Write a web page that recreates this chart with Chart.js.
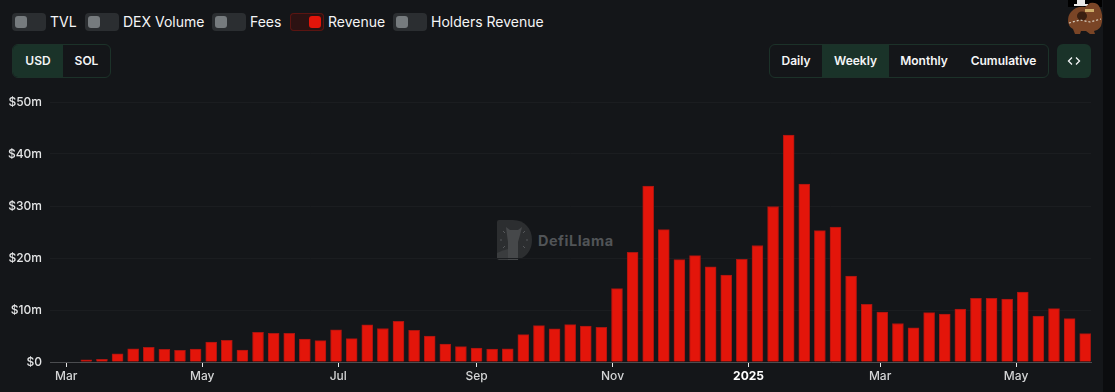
<!DOCTYPE html>
<html>
<head>
<meta charset="utf-8">
<title>Revenue</title>
<script src="https://cdn.jsdelivr.net/npm/chart.js@4/dist/chart.umd.js"></script>
<style>
    html, body { margin: 0; padding: 0; width: 1115px; height: 392px; overflow: hidden; background: #0b0c0e; font-family: Inter, sans-serif; }
    #panel { position: absolute; left: 0; top: 0; width: 1103px; height: 392px; background: #141619; }
    #chartWrap { position: absolute; left: 0; top: 90px; width: 1103px; height: 302px; }
    .abs { position: absolute; }
    .toggle { position: absolute; top: 13px; width: 34px; height: 18px; border-radius: 4px; background: #2b2e31; }
    .toggle i { position: absolute; left: 3px; top: 3px; width: 12px; height: 12px; border-radius: 3px; background: #767b7e; }
    .toggle.on { background: #2c1212; box-shadow: inset 0 0 0 1px #5a1512; }
    .toggle.on i { left: 19px; background: #e3150a; }
    .lbl { position: absolute; top: 13px; line-height: 18px; font-size: 14px; color: #f4f5f6; white-space: nowrap; }
    .group { position: absolute; top: 44px; height: 32px; border: 1px solid #1c3229; border-radius: 6px; overflow: hidden; }
    .btn { position: absolute; top: 0; height: 32px; line-height: 32px; text-align: center; font-size: 12px; font-weight: 600; color: #f4f5f6; }
    .btn.on { background: #1a3329; }
    #code { position: absolute; left: 1057px; top: 44px; width: 34px; height: 34px; border-radius: 6px; background: #1a3329; }
    #wmText { position: absolute; left: 538px; top: 231px; line-height: 20px; font-size: 14.5px; font-weight: 700; letter-spacing: 0.5px; color: #515457; }
</style>
</head>
<body>
<div id="panel">
    <div class="toggle" style="left:12px"><i></i></div><div class="lbl" style="left:50px">TVL</div>
    <div class="toggle" style="left:85px"><i></i></div><div class="lbl" style="left:123px">DEX Volume</div>
    <div class="toggle" style="left:212px"><i></i></div><div class="lbl" style="left:250px">Fees</div>
    <div class="toggle on" style="left:290px"><i></i></div><div class="lbl" style="left:328px">Revenue</div>
    <div class="toggle" style="left:393px"><i></i></div><div class="lbl" style="left:431px">Holders Revenue</div>

    <div class="group" style="left:12px;width:97px">
        <div class="btn on" style="left:0;width:50px">USD</div>
        <div class="btn" style="left:50px;width:47px">SOL</div>
    </div>
    <div class="group" style="left:769px;width:278px">
        <div class="btn" style="left:0;width:52px">Daily</div>
        <div class="btn on" style="left:52px;width:67px">Weekly</div>
        <div class="btn" style="left:119px;width:70px">Monthly</div>
        <div class="btn" style="left:189px;width:89px">Cumulative</div>
    </div>
    <div id="code">
        <svg width="34" height="34" viewBox="0 0 34 34" fill="none" stroke="#f4f5f6" stroke-width="1.3">
            <path d="M15 13.5 L11.5 17 L15 20.5"/>
            <path d="M19 13.5 L22.5 17 L19 20.5"/>
        </svg>
    </div>

    <!-- значок у правому верхньому куті -->
    <svg class="abs" style="left:1068px;top:0" width="35" height="36" viewBox="0 0 35 36">
        <rect x="0" y="0" width="34" height="7" fill="#000"/>
        <path d="M9 0h8v4h3v2H6V4h3z" fill="#e8e8e8"/>
        <path d="M3 12 Q8 6 17 7 L22 3 Q30 2 32 8 Q35 14 34 22 Q33 30 26 31 L27 34 H22 L18 31 L13 31 L12 34 H7 L5 29 Q0 26 0 21 Q0 15 3 12 Z" fill="#7a4526"/>
        <ellipse cx="14" cy="16" rx="5" ry="4.5" fill="#3a1f10"/>
        <rect x="17" y="9" width="9" height="3" fill="#cfae6a"/>
        <path d="M1 23 L12 20 L22 22 L33 19" stroke="#d8cdbd" stroke-width="1.2" stroke-dasharray="2 2" fill="none"/>
    </svg>

    <!-- водяний знак -->
    <svg class="abs" style="left:497px;top:220px" width="36" height="40" viewBox="0 0 36 40">
        <path d="M0 2 Q0 0 2 0 H16 C28 0 35 9 35 20 C35 31 28 40 16 40 H2 Q0 40 0 38 Z" fill="#2c2e30"/>
        <path d="M9 7 L13 10 H21 L25 7 L23 15 L21 22 V40 H11 V22 L10 15 Z" fill="#46484a"/>
        <path d="M0 38 V33 Q6 30 11 29 V40 H2 Z" fill="#3a3c3e"/>
        <path d="M6 11 L8 13 M28 11 L26 13 M3 20 H5 M29 20 H31 M6 28 L8 26 M28 28 L26 26" stroke="#55575a" stroke-width="1"/>
    </svg>
    <div id="wmText">DefiLlama</div>

    <div id="chartWrap"><canvas id="revenueChart"></canvas></div>
</div>

<script>
// Тижневі дати стовпчиків
const weekDates = [
    "2024-03-10", "2024-03-17", "2024-03-24", "2024-03-31", "2024-04-07", "2024-04-14", "2024-04-21", "2024-04-28",
    "2024-05-05", "2024-05-12", "2024-05-19", "2024-05-26", "2024-06-02", "2024-06-09", "2024-06-16", "2024-06-23",
    "2024-06-30", "2024-07-07", "2024-07-14", "2024-07-21", "2024-07-28", "2024-08-04", "2024-08-11", "2024-08-18",
    "2024-08-25", "2024-09-01", "2024-09-08", "2024-09-15", "2024-09-22", "2024-09-29", "2024-10-06", "2024-10-13",
    "2024-10-20", "2024-10-27", "2024-11-03", "2024-11-10", "2024-11-17", "2024-11-24", "2024-12-01", "2024-12-08",
    "2024-12-15", "2024-12-22", "2024-12-29", "2025-01-05", "2025-01-12", "2025-01-19", "2025-01-26", "2025-02-02",
    "2025-02-09", "2025-02-16", "2025-02-23", "2025-03-02", "2025-03-09", "2025-03-16", "2025-03-23", "2025-03-30",
    "2025-04-06", "2025-04-13", "2025-04-20", "2025-04-27", "2025-05-04", "2025-05-11", "2025-05-18", "2025-05-25",
    "2025-06-01"
];

// Дохід, млн USD
const revenue = [
    0.4, 0.5, 1.55, 2.55, 2.8, 2.45, 2.25, 2.5,
    3.85, 4.15, 2.3, 5.7, 5.5, 5.5, 4.4, 4.1,
    6.2, 4.5, 7.15, 6.45, 7.8, 6.1, 5.0, 3.45,
    2.95, 2.7, 2.5, 2.55, 5.25, 7.0, 6.4, 7.2,
    6.9, 6.65, 14.1, 21.1, 33.85, 25.45, 19.7, 20.45,
    18.3, 16.7, 19.75, 22.4, 29.9, 43.65, 34.2, 25.25,
    25.95, 16.5, 11.1, 9.6, 7.4, 6.55, 9.5, 9.2,
    10.2, 12.25, 12.25, 12.1, 13.45, 8.85, 10.25, 8.35,
    5.45
];

const tickDates = ["2024-03-01", "2024-05-01", "2024-07-01", "2024-09-01", "2024-11-01", "2025-01-01", "2025-03-01", "2025-05-01"];
const tickLabels = ["Mar", "May", "Jul", "Sep", "Nov", "2025", "Mar", "May"];

const dayOf = (iso) => Date.parse(iso + "T00:00:00Z") / 86400000;
const tickDays = tickDates.map(dayOf);

new Chart(document.getElementById("revenueChart").getContext("2d"), {
    type: "bar",
    data: {
        datasets: [{
            data: weekDates.map((d, i) => ({ x: dayOf(d), y: revenue[i] })),
            backgroundColor: "#e3150a",
            borderColor: "#a81510",
            borderWidth: 1,
            borderSkipped: "bottom",
            barThickness: 11
        }]
    },
    options: {
        responsive: true,
        maintainAspectRatio: false,
        animation: false,
        layout: { padding: { top: 12, right: 12, left: 0, bottom: 0 } },
        plugins: { legend: { display: false }, tooltip: { enabled: false } },
        scales: {
            x: {
                type: "linear",
                offset: false,
                min: tickDays[0] - 7.3,
                max: tickDays[0] + 459.6,
                afterBuildTicks: (scale) => { scale.ticks = tickDays.map(v => ({ value: v })); },
                afterFit: (scale) => { scale.height = 30; },
                // у bar-графіка grid.offset за замовчуванням true, тому вимикаємо
                grid: { offset: false, drawOnChartArea: false, drawTicks: true, tickLength: 5, tickColor: "#e6e6e6", tickWidth: 1 },
                border: { display: true, color: "#4b4d50", width: 1 },
                ticks: {
                    autoSkip: false,
                    maxRotation: 0,
                    padding: 2,
                    callback: (val) => tickLabels[tickDays.indexOf(val)],
                    color: (ctx) => tickLabels[ctx.index] === "2025" ? "#ffffff" : "#d4d5d6",
                    font: (ctx) => ({ family: "Inter", size: 12, weight: tickLabels[ctx.index] === "2025" ? "700" : "500" })
                }
            },
            y: {
                min: 0,
                max: 50,
                afterFit: (scale) => { scale.width = 50; scale.paddingTop = 0; scale.paddingBottom = 0; },
                grid: { color: "#1b1d20", drawTicks: false, lineWidth: 1 },
                border: { display: false },
                ticks: {
                    stepSize: 10,
                    padding: 8,
                    color: "#e4e5e6",
                    font: { family: "Inter", size: 12, weight: "500" },
                    callback: (v) => "$" + (v === 0 ? "0" : v + "m")
                }
            }
        }
    }
});
</script>
</body>
</html>
